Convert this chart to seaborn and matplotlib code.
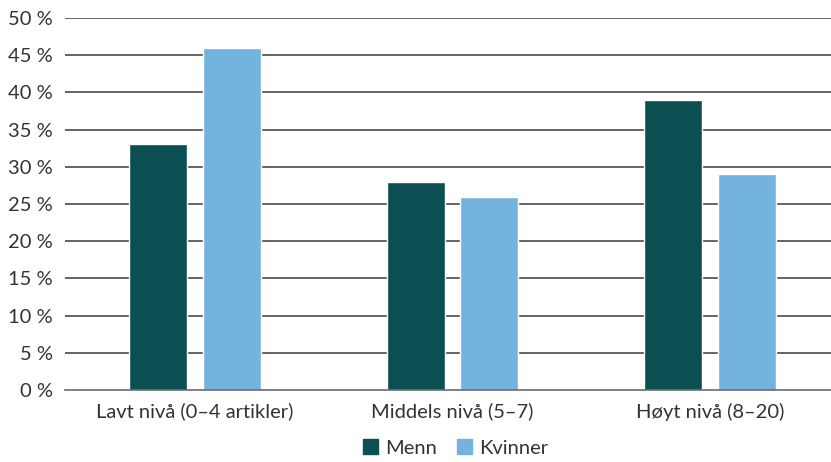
import matplotlib
matplotlib.use("Agg")
import matplotlib.pyplot as plt
import seaborn as sns
import pandas as pd
from matplotlib.ticker import FuncFormatter
from matplotlib.patches import Patch

categories = ["Lavt nivå (0–4 artikler)", "Middels nivå (5–7)", "Høyt nivå (8–20)"]
menn = [33, 28, 39]
kvinner = [46, 26, 29]
series = ["Menn", "Kvinner"]
colors = ["#0c4f52", "#74b3dd"]

df = pd.DataFrame({
    "kategori": categories * 2,
    "verdi": menn + kvinner,
    "kjønn": [series[0]] * 3 + [series[1]] * 3,
})

sns.set_theme(style="white")
plt.rcParams["font.family"] = ["Lato", "DejaVu Sans"]
text_color = "#333333"

fig = plt.figure(figsize=(8.31, 4.62), dpi=100)
ax = fig.add_axes([65 / 831, 1 - 390 / 462, (831 - 65) / 831, (390 - 18) / 462])

sns.barplot(data=df, x="kategori", y="verdi", hue="kjønn", palette=colors,
            width=0.57, gap=0.21, ax=ax, legend=False, saturation=1, zorder=3)

ax.set_ylim(0, 50)
ax.set_xlim(-0.505, 2.47)
ax.set_yticks(range(0, 51, 5))
ax.yaxis.set_major_formatter(FuncFormatter(lambda v, p: f"{int(v)} %"))
for y in range(5, 51, 5):
    ax.axhline(y, color="#3a3a3a", lw=1.1, zorder=1)
for s in ["top", "right", "left"]:
    ax.spines[s].set_visible(False)
ax.spines["bottom"].set_color("#6b6b6b")
ax.spines["bottom"].set_linewidth(1.2)
ax.spines["bottom"].set_zorder(4)
ax.set_xlabel("")
ax.set_ylabel("")
ax.tick_params(axis="y", length=0, pad=9, labelsize=14.5, labelcolor=text_color)
ax.tick_params(axis="x", length=0, pad=9, labelsize=14.5, labelcolor=text_color)

handles = [Patch(color=c, label=l) for c, l in zip(colors, series)]
fig.legend(handles=handles, loc="lower center", bbox_to_anchor=(0.548, -0.028), ncol=2,
           frameon=False, fontsize=14.5, handlelength=0.75, handleheight=0.75,
           handletextpad=0.35, columnspacing=1.0, labelcolor=text_color)

fig.savefig("out.png", dpi=100)
